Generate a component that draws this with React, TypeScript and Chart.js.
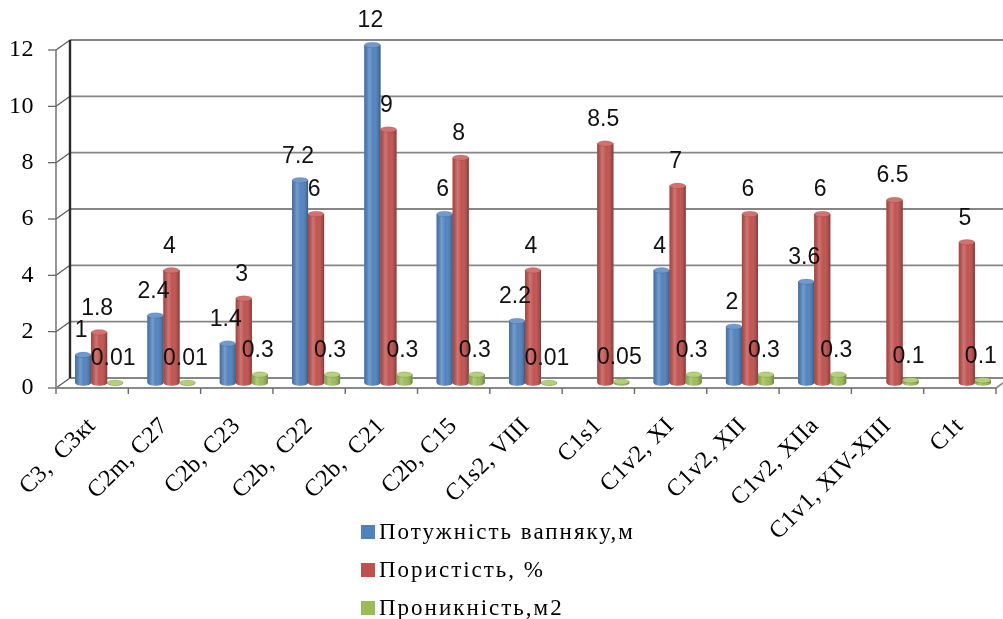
import React, { useEffect, useRef } from "react";
import { Chart, registerables } from "chart.js";

Chart.register(...registerables);

const categories = [
  "C3,  C3кt",
  "C2m, C27",
  "C2b, C23",
  "C2b,  C22",
  "C2b,  C21",
  "C2b, C15",
  "C1s2, VIII",
  "C1s1",
  "C1v2, XI",
  "C1v2, XII",
  "C1v2, XIIa",
  "C1v1, XIV-XIII",
  "C1t",
];
const thickness = [1, 2.4, 1.4, 7.2, 12, 6, 2.2, null, 4, 2, 3.6, null, null];
const porosity = [1.8, 4, 3, 6, 9, 8, 4, 8.5, 7, 6, 6, 6.5, 5];
const permeability = [0.01, 0.01, 0.3, 0.3, 0.3, 0.3, 0.01, 0.05, 0.3, 0.3, 0.3, 0.1, 0.1];
const seriesNames = ["Потужність вапняку,м", "Пористість, %", "Проникність,м2"];
const seriesColors = ["#4F81BD", "#C0504D", "#9BBB59"];
const capColors = ["#6f9ad0", "#d4716e", "#b4d177"];
const yMin = 0;
const yMax = 12;
const yStep = 2;

const DX = 7;
const DY = 5;

const wallPlugin = {
  id: "wall3d",
  beforeDraw(chart: any) {
    (chart.ctx as any).letterSpacing = "0.5px";
  },
  beforeDatasetsDraw(chart: any) {
    const { ctx, chartArea } = chart;
    (ctx as any).letterSpacing = "0px";
    const x = chart.scales.x;
    const y = chart.scales.y;
    const left = chartArea.left;
    const right = chartArea.right;
    ctx.save();
    ctx.lineCap = "butt";
    y.ticks.forEach((t: any) => {
      const py = y.getPixelForValue(t.value);
      ctx.strokeStyle = "#868686";
      ctx.lineWidth = 1.8;
      ctx.beginPath();
      ctx.moveTo(left + DX, py - DY);
      ctx.lineTo(right, py - DY);
      ctx.stroke();
      ctx.strokeStyle = "#5a5a5a";
      ctx.lineWidth = 1.2;
      ctx.beginPath();
      ctx.moveTo(left - DX, py + DY);
      ctx.lineTo(left + DX, py - DY);
      ctx.stroke();
      ctx.beginPath();
      ctx.moveTo(left - DX - 8, py + DY);
      ctx.lineTo(left - DX, py + DY);
      ctx.stroke();
    });
    const yTop = y.getPixelForValue(yMax);
    const y0 = y.getPixelForValue(yMin);
    ctx.strokeStyle = "#6a6a6a";
    ctx.lineWidth = 1.4;
    ctx.beginPath();
    ctx.moveTo(left - DX, yTop + DY);
    ctx.lineTo(left - DX, y0 + DY);
    ctx.stroke();
    ctx.strokeStyle = "#2a2a2a";
    ctx.lineWidth = 2.4;
    ctx.beginPath();
    ctx.moveTo(left + DX, yTop - DY);
    ctx.lineTo(left + DX, y0 - DY);
    ctx.stroke();
    const n = categories.length;
    const w = x.getPixelForValue(1) - x.getPixelForValue(0);
    const frontRight = x.getPixelForValue(n - 1) + w / 2 - DX;
    ctx.strokeStyle = "#8a8a8a";
    ctx.lineWidth = 1.8;
    ctx.beginPath();
    ctx.moveTo(left - DX, y0 + DY);
    ctx.lineTo(frontRight, y0 + DY);
    ctx.lineTo(frontRight + 2 * DX, y0 - DY);
    ctx.stroke();
    ctx.strokeStyle = "#6a6a6a";
    ctx.lineWidth = 1.4;
    for (let k = 0; k <= n; k++) {
      const bx = x.getPixelForValue(0) - w / 2 + k * w - DX;
      ctx.beginPath();
      ctx.moveTo(bx, y0 + DY);
      ctx.lineTo(bx, y0 + DY + 6);
      ctx.stroke();
    }
    ctx.restore();
  },
  afterDatasetsDraw(chart: any) {
    const { ctx } = chart;
    ctx.save();
    chart.data.datasets.forEach((ds: any, di: number) => {
      const meta = chart.getDatasetMeta(di);
      meta.data.forEach((el: any, i: number) => {
        const v = ds.data[i];
        if (v == null) return;
        const { x, y, base, width } = el.getProps(["x", "y", "base", "width"], true);
        const l = x - width / 2;
        const r = x + width / 2;
        const rx = width / 2;
        const ry = width * 0.17;
        const path = () => {
          ctx.beginPath();
          ctx.moveTo(l, y);
          ctx.lineTo(l, base);
          ctx.ellipse(x, base, rx, ry, 0, Math.PI, 0, true);
          ctx.lineTo(r, y);
          ctx.closePath();
        };
        path();
        ctx.fillStyle = seriesColors[di];
        ctx.fill();
        const g = ctx.createLinearGradient(l, 0, r, 0);
        g.addColorStop(0, "rgba(0,0,0,0.12)");
        g.addColorStop(0.3, "rgba(255,255,255,0.22)");
        g.addColorStop(0.55, "rgba(255,255,255,0.02)");
        g.addColorStop(1, "rgba(0,0,0,0.30)");
        path();
        ctx.fillStyle = g;
        ctx.fill();
        ctx.beginPath();
        ctx.ellipse(x, y, rx, ry, 0, 0, Math.PI * 2);
        ctx.fillStyle = capColors[di];
        ctx.fill();
        ctx.lineWidth = 0.8;
        ctx.strokeStyle = "rgba(0,0,0,0.15)";
        ctx.stroke();
      });
    });
    ctx.font = "23px 'Liberation Sans', Arial, sans-serif";
    ctx.fillStyle = "#111";
    ctx.textAlign = "center";
    ctx.textBaseline = "middle";
    chart.data.datasets.forEach((ds: any, di: number) => {
      const meta = chart.getDatasetMeta(di);
      meta.data.forEach((el: any, i: number) => {
        const v = ds.data[i];
        if (v == null) return;
        const { x, y } = el.getProps(["x", "y"], true);
        ctx.fillText(String(v), x - 2, y - 24);
      });
    });
    ctx.restore();
  },
  afterDraw(chart: any) {
    const { ctx } = chart;
    ctx.save();
    ctx.font = "23px 'Liberation Serif', 'Times New Roman', serif";
    (ctx as any).letterSpacing = "2px";
    ctx.textBaseline = "middle";
    ctx.textAlign = "left";
    seriesNames.forEach((name, i) => {
      const cy = 532 + i * 38;
      ctx.fillStyle = seriesColors[i];
      ctx.fillRect(361, cy - 7, 14, 14);
      ctx.fillStyle = "#000";
      ctx.fillText(name, 379, cy + 1);
    });
    (ctx as any).letterSpacing = "0px";
    ctx.restore();
  },
};

export default function App() {
  const ref = useRef<HTMLCanvasElement | null>(null);
  useEffect(() => {
    if (!ref.current) return;
    const chart = new Chart(ref.current, {
      type: "bar",
      data: {
        labels: categories,
        datasets: [
          { label: seriesNames[0], data: thickness, backgroundColor: seriesColors[0] },
          { label: seriesNames[1], data: porosity, backgroundColor: seriesColors[1] },
          { label: seriesNames[2], data: permeability, backgroundColor: seriesColors[2] },
        ],
      },
      options: {
        animation: false,
        responsive: true,
        maintainAspectRatio: false,
        layout: { padding: { top: 45, right: 0, left: 0, bottom: 0 } },
        datasets: { bar: { categoryPercentage: 0.664, barPercentage: 1, borderWidth: 0 } },
        plugins: { legend: { display: false }, tooltip: { enabled: false } },
        scales: {
          x: {
            grid: { display: false, drawTicks: false },
            border: { display: false },
            ticks: {
              autoSkip: false,
              minRotation: 45,
              maxRotation: 45,
              padding: 29,
              labelOffset: -7,
              color: "#000",
              font: { family: "'Liberation Serif', 'Times New Roman', serif", size: 24 },
            },
            afterFit: (s: any) => {
              s.height = 236;
              s.paddingLeft = 0;
              s.paddingRight = 0;
            },
          },
          y: {
            min: yMin,
            max: yMax,
            grid: { display: false, drawTicks: false },
            border: { display: false },
            ticks: {
              stepSize: yStep,
              padding: 29,
              labelOffset: DY,
              color: "#000",
              font: { family: "'Liberation Serif', 'Times New Roman', serif", size: 24 },
            },
            afterFit: (s: any) => {
              s.width = 63;
              s.paddingTop = 0;
              s.paddingBottom = 0;
            },
          },
        },
      },
      plugins: [wallPlugin],
    });
    return () => chart.destroy();
  }, []);
  return (
    <div style={{ position: "absolute", left: 0, top: 0, width: 1003, height: 619 }}>
      <canvas ref={ref} />
    </div>
  );
}
